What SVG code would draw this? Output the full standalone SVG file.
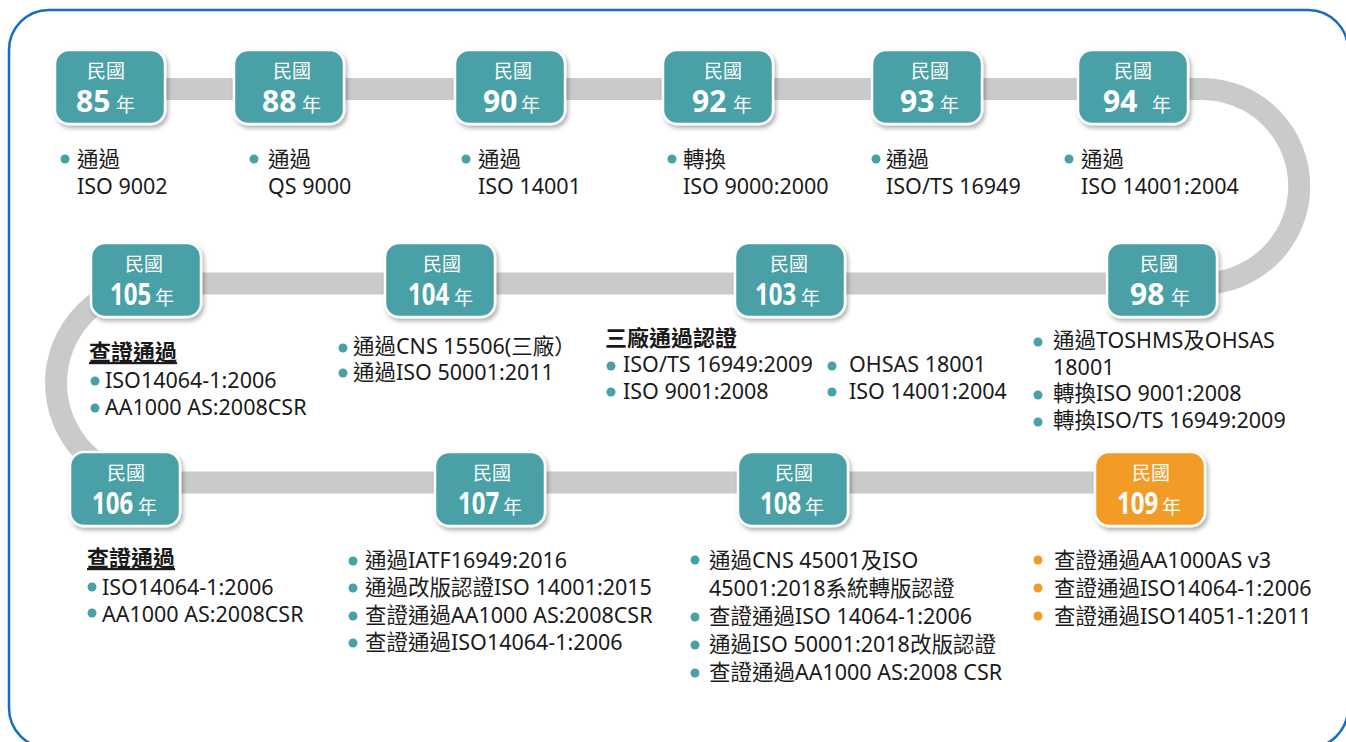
<svg xmlns="http://www.w3.org/2000/svg" width="1346" height="742" viewBox="0 0 1346 742">
<defs>
<filter id="sh" x="-20%" y="-20%" width="140%" height="150%">
<feDropShadow dx="2" dy="3" stdDeviation="2" flood-color="#000" flood-opacity="0.3"/>
</filter>
<style>
text{font-family:"Noto Sans","Noto Sans CJK TC",sans-serif}
.box{fill:#48a1a7;stroke:#fff;stroke-width:2.5;filter:url(#sh)}
.box.o{fill:#f29b26}
.by{font-size:19px;fill:#fff;text-anchor:middle}
.yr{fill:#fff}
.num{font-size:30px;font-weight:700;fill:#fff}
.nian{font-size:19px;fill:#fff}
.t{font-size:21.5px;fill:#1a1a1a}
.h{font-size:22px;font-weight:700;fill:#1a1a1a}
.u{text-decoration:underline}
.dot{fill:#48a1a7}
.dot.o{fill:#f29b26}
.track{fill:none;stroke:#c9caca;stroke-width:22}
</style>
</defs>
<rect x="9" y="10" width="1339" height="738" rx="40" fill="#fff" stroke="#1a6cc0" stroke-width="2.5"/>
<g id="connectors">
<path class="track" d="M60,89 H1202 A97.25,97.25 0 0 1 1202,283.5 H155.5 A99.5,99.5 0 0 0 155.5,482.5 H1150"/>
</g>

<g id="n85">
<rect class="box" x="55" y="50" width="110" height="74" rx="14"/>
<text class="by" x="106" y="78">民國</text>
<text class="yr" y="112"><tspan class="num" x="76">85</tspan><tspan class="nian" x="116">年</tspan></text>
<circle class="dot" cx="65" cy="159" r="4.5"/>
<text class="t" x="77" y="167">通過</text>
<text class="t" x="77" y="194">ISO 9002</text>
</g>
<g id="n88">
<rect class="box" x="234" y="50" width="110" height="74" rx="14"/>
<text class="by" x="292" y="78">民國</text>
<text class="yr" y="112"><tspan class="num" x="262">88</tspan><tspan class="nian" x="302">年</tspan></text>
<circle class="dot" cx="254" cy="159" r="4.5"/>
<text class="t" x="268" y="167">通過</text>
<text class="t" x="268" y="194">QS 9000</text>
</g>
<g id="n90">
<rect class="box" x="455" y="50" width="110" height="74" rx="14"/>
<text class="by" x="513" y="78">民國</text>
<text class="yr" y="112"><tspan class="num" x="483">90</tspan><tspan class="nian" x="521">年</tspan></text>
<circle class="dot" cx="466" cy="159" r="4.5"/>
<text class="t" x="478" y="167">通過</text>
<text class="t" x="478" y="194">ISO 14001</text>
</g>
<g id="n92">
<rect class="box" x="663" y="50" width="110" height="74" rx="14"/>
<text class="by" x="723" y="78">民國</text>
<text class="yr" y="112"><tspan class="num" x="692">92</tspan><tspan class="nian" x="733">年</tspan></text>
<circle class="dot" cx="672" cy="159" r="4.5"/>
<text class="t" x="683" y="167">轉換</text>
<text class="t" x="683" y="194">ISO 9000:2000</text>
</g>
<g id="n93">
<rect class="box" x="872" y="50" width="110" height="74" rx="14"/>
<text class="by" x="930" y="78">民國</text>
<text class="yr" y="112"><tspan class="num" x="900">93</tspan><tspan class="nian" x="940">年</tspan></text>
<circle class="dot" cx="876" cy="159" r="4.5"/>
<text class="t" x="886" y="167">通過</text>
<text class="t" x="886" y="194">ISO/TS 16949</text>
</g>
<g id="n94">
<rect class="box" x="1078" y="50" width="110" height="74" rx="14"/>
<text class="by" x="1133" y="78">民國</text>
<text class="yr" y="112"><tspan class="num" x="1103">94</tspan><tspan class="nian" x="1152">年</tspan></text>
<circle class="dot" cx="1069" cy="159" r="4.5"/>
<text class="t" x="1081" y="167">通過</text>
<text class="t" x="1081" y="194">ISO 14001:2004</text>
</g>

<g id="n98">
<rect class="box" x="1107" y="243" width="110" height="74" rx="14"/>
<text class="by" x="1159" y="271">民國</text>
<text class="yr" y="305"><tspan class="num" x="1130">98</tspan><tspan class="nian" x="1171">年</tspan></text>
<circle class="dot" cx="1038" cy="342" r="4.5"/>
<text class="t" x="1053" y="348">通過TOSHMS及OHSAS</text>
<text class="t" x="1053" y="375">18001</text>
<circle class="dot" cx="1038" cy="395" r="4.5"/>
<text class="t" x="1053" y="401">轉換ISO 9001:2008</text>
<circle class="dot" cx="1038" cy="422" r="4.5"/>
<text class="t" x="1053" y="428">轉換ISO/TS 16949:2009</text>
</g>
<g id="n103">
<rect class="box" x="735" y="243" width="110" height="74" rx="14"/>
<text class="by" x="789" y="271">民國</text>
<text class="num" transform="translate(755,305) scale(0.8,1)">103</text>
<text class="nian" x="801" y="305">年</text>
<text class="h" x="605" y="346">三廠通過認證</text>
<circle class="dot" cx="611" cy="366" r="4.5"/>
<text class="t" x="623" y="372">ISO/TS 16949:2009</text>
<circle class="dot" cx="611" cy="392" r="4.5"/>
<text class="t" x="623" y="399">ISO 9001:2008</text>
<circle class="dot" cx="832" cy="366" r="4.5"/>
<text class="t" x="849" y="372">OHSAS 18001</text>
<circle class="dot" cx="832" cy="392" r="4.5"/>
<text class="t" x="849" y="399">ISO 14001:2004</text>
</g>
<g id="n104">
<rect class="box" x="385" y="243" width="110" height="74" rx="14"/>
<text class="by" x="442" y="271">民國</text>
<text class="num" transform="translate(408,305) scale(0.8,1)">104</text>
<text class="nian" x="454" y="305">年</text>
<circle class="dot" cx="343" cy="348" r="4.5"/>
<text class="t" x="353" y="354">通過CNS 15506(三廠）</text>
<circle class="dot" cx="343" cy="373" r="4.5"/>
<text class="t" x="353" y="380">通過ISO 50001:2011</text>
</g>
<g id="n105">
<rect class="box" x="91" y="243" width="110" height="74" rx="14"/>
<text class="by" x="144" y="271">民國</text>
<text class="num" transform="translate(110,305) scale(0.8,1)">105</text>
<text class="nian" x="155" y="305">年</text>
<text class="h u" x="89" y="360">查證通過</text>
<circle class="dot" cx="95" cy="381" r="4.5"/>
<text class="t" x="105" y="388">ISO14064-1:2006</text>
<circle class="dot" cx="95" cy="408" r="4.5"/>
<text class="t" x="105" y="415">AA1000 AS:2008CSR</text>
</g>

<g id="n106">
<rect class="box" x="70" y="452" width="110" height="74" rx="14"/>
<text class="by" x="126" y="480">民國</text>
<text class="num" transform="translate(92,514) scale(0.8,1)">106</text>
<text class="nian" x="138" y="514">年</text>
<text class="h u" x="87" y="566">查證通過</text>
<circle class="dot" cx="92" cy="587" r="4.5"/>
<text class="t" x="102" y="595">ISO14064-1:2006</text>
<circle class="dot" cx="92" cy="613" r="4.5"/>
<text class="t" x="102" y="622">AA1000 AS:2008CSR</text>
</g>
<g id="n107">
<rect class="box" x="435" y="452" width="110" height="74" rx="14"/>
<text class="by" x="492" y="480">民國</text>
<text class="num" transform="translate(458,514) scale(0.8,1)">107</text>
<text class="nian" x="503" y="514">年</text>
<circle class="dot" cx="353" cy="561" r="4.5"/>
<text class="t" x="365" y="568">通過IATF16949:2016</text>
<circle class="dot" cx="353" cy="588" r="4.5"/>
<text class="t" x="365" y="595">通過改版認證ISO 14001:2015</text>
<circle class="dot" cx="353" cy="616" r="4.5"/>
<text class="t" x="365" y="623">查證通過AA1000 AS:2008CSR</text>
<circle class="dot" cx="353" cy="643" r="4.5"/>
<text class="t" x="365" y="650">查證通過ISO14064-1:2006</text>
</g>
<g id="n108">
<rect class="box" x="738" y="452" width="110" height="74" rx="14"/>
<text class="by" x="794" y="480">民國</text>
<text class="num" transform="translate(760,514) scale(0.8,1)">108</text>
<text class="nian" x="805" y="514">年</text>
<circle class="dot" cx="695" cy="560" r="4.5"/>
<text class="t" x="709" y="568">通過CNS 45001及ISO</text>
<text class="t" x="709" y="596">45001:2018系統轉版認證</text>
<circle class="dot" cx="695" cy="617" r="4.5"/>
<text class="t" x="709" y="624">查證通過ISO 14064-1:2006</text>
<circle class="dot" cx="695" cy="645" r="4.5"/>
<text class="t" x="709" y="652">通過ISO 50001:2018改版認證</text>
<circle class="dot" cx="695" cy="673" r="4.5"/>
<text class="t" x="709" y="680">查證通過AA1000 AS:2008 CSR</text>
</g>
<g id="n109">
<rect class="box o" x="1095" y="452" width="110" height="74" rx="14"/>
<text class="by" x="1151" y="480">民國</text>
<text class="num" transform="translate(1117,514) scale(0.8,1)">109</text>
<text class="nian" x="1162" y="514">年</text>
<circle class="dot o" cx="1038" cy="560" r="4.5"/>
<text class="t" x="1054" y="568">查證通過AA1000AS v3</text>
<circle class="dot o" cx="1038" cy="588" r="4.5"/>
<text class="t" x="1054" y="596">查證通過ISO14064-1:2006</text>
<circle class="dot o" cx="1038" cy="616" r="4.5"/>
<text class="t" x="1054" y="624">查證通過ISO14051-1:2011</text>
</g>
</svg>
